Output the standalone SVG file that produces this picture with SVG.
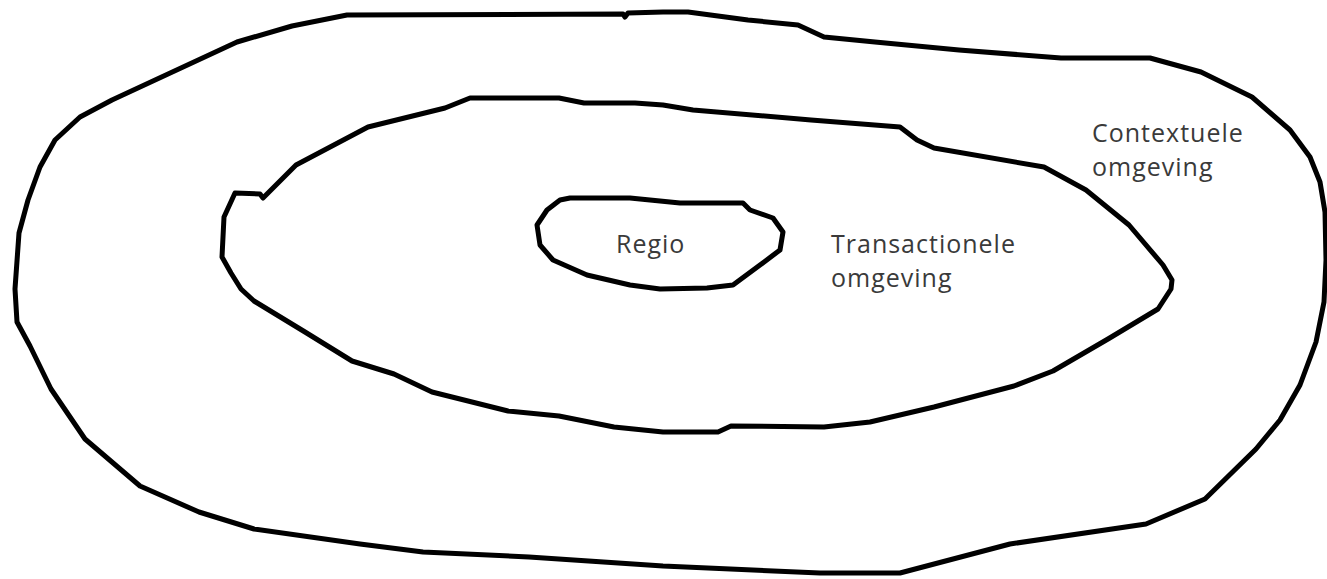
<svg xmlns="http://www.w3.org/2000/svg" width="1327" height="579" viewBox="0 0 1327 579">
<style>
.ring{fill:none;stroke:#000;stroke-width:5;stroke-linejoin:round;stroke-linecap:round}
.lbl{font-family:"Open Sans","Noto Sans","Liberation Sans",sans-serif;font-size:25px;letter-spacing:1px;fill:#3a3a3a}
</style>
<rect width="1327" height="579" fill="#fff"/>
<g id="contextuele">
<path class="ring" d="M347,15 L623,14 L625,17 L628,13 L663,12 L688,12 L748,20 L798,25 L824,37 L875,42 L959,50 L1061,58 L1150,58 L1201,72 L1252,97 L1290,130 L1310,157 L1320,182 L1325,212 L1326,260 L1324,302 L1316,342 L1300,385 L1280,420 L1256,449 L1205,499 L1146,524 L1010,544 L900,573 L820,573 L663,566 L529,557 L423,552 L360,544 L254,529 L199,512 L140,486 L85,439 L51,389 L30,346 L17,322 L15,289 L19,233 L28,200 L40,167 L55,140 L80,117 L112,100 L237,42 L292,26 Z"/>
<text class="lbl" x="1092" y="142">Contextuele</text>
<text class="lbl" x="1092" y="176">omgeving</text>
</g>
<g id="transactionele">
<path class="ring" d="M470,98 L559,98 L584,103 L635,103 L663,105 L693,110 L811,120 L900,127 L917,140 L934,148 L1044,167 L1086,190 L1129,225 L1163,265 L1172,280 L1171,289 L1158,309 L1108,339 L1053,371 L1014,386 L934,407 L870,422 L824,427 L731,426 L718,432 L663,432 L614,427 L559,416 L508,411 L432,392 L394,374 L352,361 L305,332 L254,301 L241,289 L231,273 L222,257 L224,217 L235,193 L260,194 L263,198 L296,165 L368,127 L445,108 Z"/>
<text class="lbl" x="831" y="253">Transactionele</text>
<text class="lbl" x="831" y="287">omgeving</text>
</g>
<g id="regio">
<path class="ring" stroke-width="6" d="M570,198 L630,198 L680,203 L743,203 L750,210 L773,218 L783,232 L780,250 L760,265 L733,285 L707,288 L660,289 L630,285 L587,275 L553,260 L540,245 L537,225 L547,210 L560,200 Z"/>
<text class="lbl" x="616" y="253">Regio</text>
</g>
</svg>
